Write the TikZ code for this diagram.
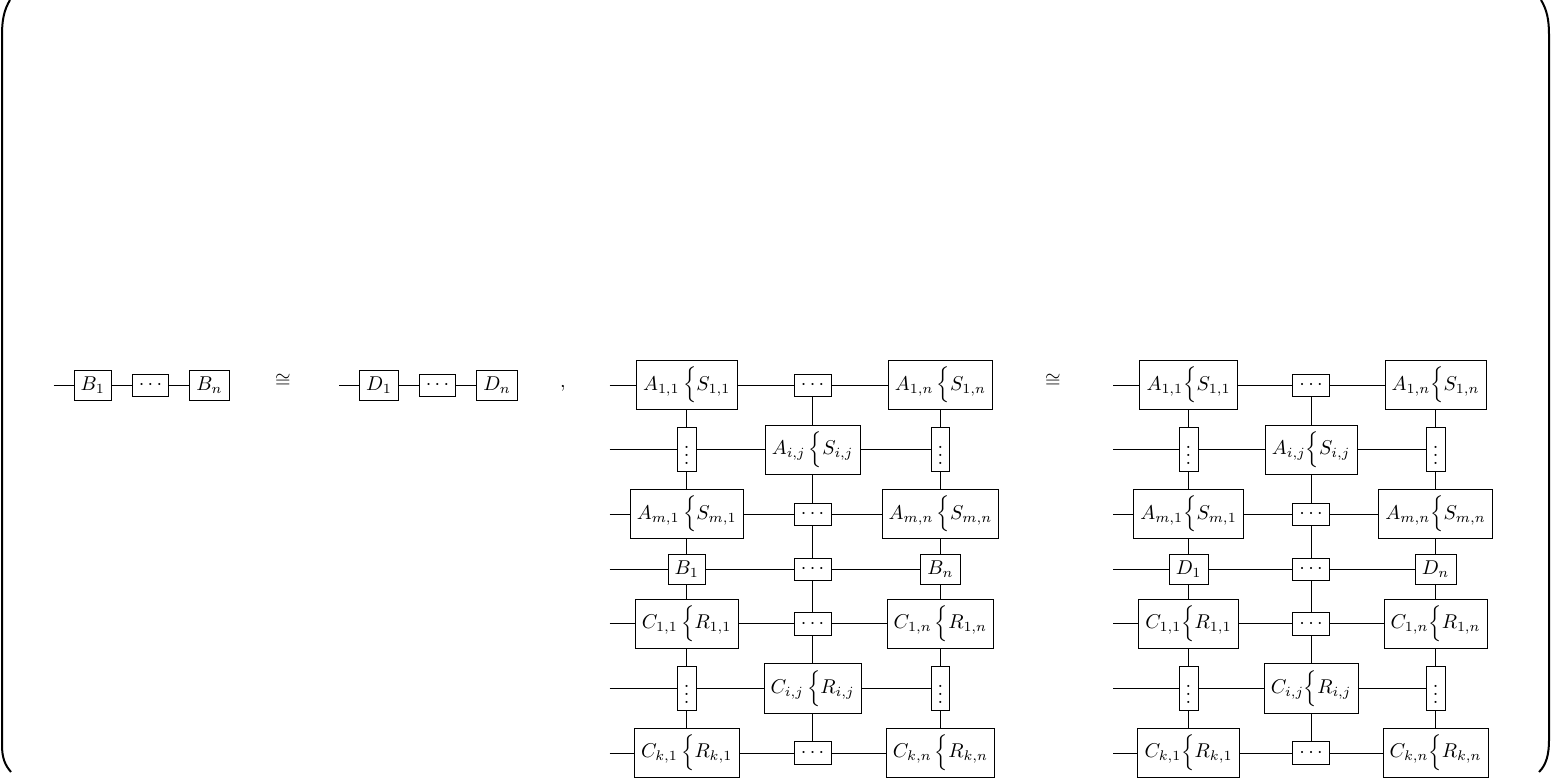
\documentclass[tikz,border=0pt]{standalone}
\usepackage{amsmath}
\usepackage{amssymb}
\usetikzlibrary{matrix}

\tikzset{
  grid/.style={matrix of math nodes, row sep=7.2pt, column sep=10pt,
    nodes={draw, anchor=center}},
  paren/.style={line width=1pt}
}

\begin{document}
\begin{tikzpicture}[x=0.5pt, y=-0.5pt]
\useasboundingbox (0,0) rectangle (1551,778);
% outer parentheses
\draw[paren] (10,0) .. controls (4,10) and (2,20) .. (2,35) -- (2,745)
  .. controls (2,758) and (5,765) .. (11,772);
\draw[paren] (1541,0) .. controls (1547,10) and (1549,20) .. (1549,35) -- (1549,740)
  .. controls (1549,755) and (1546,765) .. (1539,772);

\matrix (bl) [grid] at (151.5,385) { B_1 & \cdots & B_n \\ };
\node (iso1) at (283,381) {$\cong$};
\matrix (dl) [grid] at (438.5,385) { D_1 & \cdots & D_n \\ };
\node (comma) at (563,388) {$,$};

\matrix (g1) [grid] at (814.5,569) {
A_{1,1}\,\Big\{S_{1,1} & \cdots & A_{1,n}\,\Big\{S_{1,n} \\
\vdots & A_{i,j}\,\Big\{S_{i,j} & \vdots \\
A_{m,1}\,\Big\{S_{m,1} & \cdots & A_{m,n}\,\Big\{S_{m,n} \\
B_1 & \cdots & B_n \\
C_{1,1}\,\Big\{R_{1,1} & \cdots & C_{1,n}\,\Big\{R_{1,n} \\
\vdots & C_{i,j}\,\Big\{R_{i,j} & \vdots \\
C_{k,1}\,\Big\{R_{k,1} & \cdots & C_{k,n}\,\Big\{R_{k,n} \\
};
\node (iso2) at (1053,381) {$\cong$};
\matrix (g2) [grid] at (1313,569) {
A_{1,1}\Big\{S_{1,1} & \cdots & A_{1,n}\Big\{S_{1,n} \\
\vdots & A_{i,j}\Big\{S_{i,j} & \vdots \\
A_{m,1}\Big\{S_{m,1} & \cdots & A_{m,n}\Big\{S_{m,n} \\
D_1 & \cdots & D_n \\
C_{1,1}\Big\{R_{1,1} & \cdots & C_{1,n}\Big\{R_{1,n} \\
\vdots & C_{i,j}\Big\{R_{i,j} & \vdots \\
C_{k,1}\Big\{R_{k,1} & \cdots & C_{k,n}\Big\{R_{k,n} \\
};

\foreach \ch in {bl,dl}{
  \coordinate (\ch-in) at ([xshift=-10pt]\ch-1-1.west);
  \draw (\ch-in) -- (\ch-1-1) -- (\ch-1-2) -- (\ch-1-3);
}
\foreach \g in {g1,g2}{
  \coordinate (\g-in) at ([xshift=-10pt]\g-3-1.west);
  \foreach \r in {1,...,7}
    \draw (\g-in |- \g-\r-1) -- (\g-\r-1) -- (\g-\r-2) -- (\g-\r-3);
  \foreach \c in {1,2,3}
    \draw (\g-1-\c) -- (\g-2-\c) -- (\g-3-\c) -- (\g-4-\c) -- (\g-5-\c)
      -- (\g-6-\c) -- (\g-7-\c);
}
\end{tikzpicture}
\end{document}
